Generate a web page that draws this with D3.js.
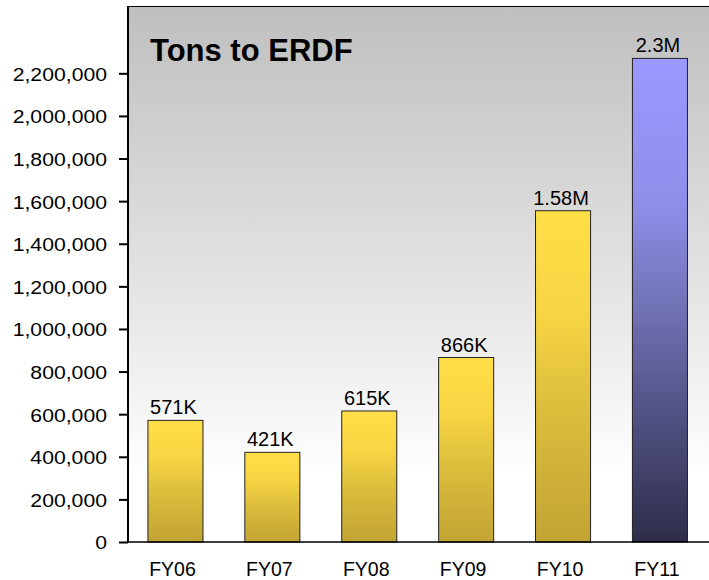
<!DOCTYPE html>
<html>
<head>
<meta charset="utf-8">
<script src="https://cdn.jsdelivr.net/npm/d3@7"></script>
<style>
  html, body { margin: 0; padding: 0; background: #ffffff; }
  svg { display: block; font-family: "Liberation Sans", Arial, sans-serif; }
</style>
</head>
<body>
<svg id="chart" width="709" height="580"></svg>
<script>
// ---- data ----
const categories = ["FY06", "FY07", "FY08", "FY09", "FY10", "FY11"];
const tons = [571000, 421000, 615000, 866000, 1555000, 2270000];
const valueLabels = ["571K", "421K", "615K", "866K", "1.58M", "2.3M"];
const barGroups = ["actual", "actual", "actual", "actual", "actual", "projected"];
const yTickValues = [0, 200000, 400000, 600000, 800000, 1000000, 1200000, 1400000, 1600000, 1800000, 2000000, 2200000];
const chartTitle = "Tons to ERDF";

// ---- layout ----
const plot = { left: 128, top: 6, bottom: 542, right: 711 };

const svg = d3.select("#chart");
const defs = svg.append("defs");

// background gradient
const bg = defs.append("linearGradient").attr("id", "bgGrad")
  .attr("x1", 0).attr("y1", 0).attr("x2", 0).attr("y2", 1);
bg.append("stop").attr("offset", "0").attr("stop-color", "#bfbfbf");
bg.append("stop").attr("offset", "0.5").attr("stop-color", "#e2e2e2");
bg.append("stop").attr("offset", "0.88").attr("stop-color", "#ffffff");
bg.append("stop").attr("offset", "1").attr("stop-color", "#ffffff");

// bar gradients
const gy = defs.append("linearGradient").attr("id", "grad-actual")
  .attr("x1", 0).attr("y1", 0).attr("x2", 0).attr("y2", 1);
gy.append("stop").attr("offset", "0").attr("stop-color", "#ffdf48");
gy.append("stop").attr("offset", "0.3").attr("stop-color", "#f7d543");
gy.append("stop").attr("offset", "0.6").attr("stop-color", "#dcbd3c");
gy.append("stop").attr("offset", "1").attr("stop-color", "#c2a434");

const gb = defs.append("linearGradient").attr("id", "grad-projected")
  .attr("x1", 0).attr("y1", 0).attr("x2", 0).attr("y2", 1);
gb.append("stop").attr("offset", "0").attr("stop-color", "#9999ff");
gb.append("stop").attr("offset", "0.3").attr("stop-color", "#8e8eea");
gb.append("stop").attr("offset", "0.5").attr("stop-color", "#7474ba");
gb.append("stop").attr("offset", "0.71").attr("stop-color", "#55558a");
gb.append("stop").attr("offset", "1").attr("stop-color", "#2d2d4a");

// scales
const x = d3.scaleBand()
  .domain(categories)
  .range([127, 127 + 6 * 96.9])
  .paddingInner(0.432)
  .paddingOuter(0.216);

const y = d3.scaleLinear()
  .domain([0, 2516000])
  .range([plot.bottom, plot.top]);

// plot background
svg.append("rect")
  .attr("x", plot.left).attr("y", plot.top)
  .attr("width", plot.right - plot.left)
  .attr("height", plot.bottom - plot.top)
  .attr("fill", "url(#bgGrad)");

// top border
svg.append("line")
  .attr("x1", plot.left).attr("x2", plot.right)
  .attr("y1", plot.top + 0.5).attr("y2", plot.top + 0.5)
  .attr("stroke", "#000").attr("stroke-width", 1.2);

// title
svg.append("text")
  .attr("x", 150).attr("y", 61)
  .attr("font-size", 31).attr("font-weight", "bold")
  .attr("fill", "#000")
  .text(chartTitle);

// bars
const data = categories.map((c, i) => ({ c, v: tons[i], label: valueLabels[i], g: barGroups[i] }));

svg.append("g").selectAll("rect")
  .data(data)
  .join("rect")
  .attr("x", d => x(d.c))
  .attr("y", d => y(d.v))
  .attr("width", x.bandwidth())
  .attr("height", d => y(0) - y(d.v))
  .attr("fill", d => `url(#grad-${d.g})`)
  .attr("stroke", "#222")
  .attr("stroke-width", 1);

// value labels
svg.append("g").selectAll("text")
  .data(data)
  .join("text")
  .attr("x", d => x(d.c) + x.bandwidth() / 2 - 2)
  .attr("y", d => y(d.v) - 6)
  .attr("text-anchor", "middle")
  .attr("font-size", 20)
  .attr("fill", "#000")
  .text(d => d.label);

// y axis
const yAxis = d3.axisLeft(y)
  .tickValues(yTickValues)
  .tickSize(9)
  .tickPadding(12)
  .tickFormat(d3.format(","));

const gY = svg.append("g")
  .attr("transform", `translate(${plot.left},0)`)
  .call(yAxis);
gY.select(".domain").remove();
gY.selectAll(".tick line").attr("stroke", "#000").attr("stroke-width", 2);
gY.selectAll(".tick text")
  .attr("x", null)
  .attr("dy", "0.37em")
  .attr("transform", "translate(-21,0) scale(1.14,1)")
  .attr("font-size", 18.6)
  .attr("font-family", "'Liberation Sans', Arial, sans-serif")
  .attr("fill", "#000");

// left axis line
svg.append("line")
  .attr("x1", plot.left).attr("x2", plot.left)
  .attr("y1", plot.top).attr("y2", plot.bottom + 1)
  .attr("stroke", "#000").attr("stroke-width", 2);

// x axis
const xAxis = d3.axisBottom(x).tickSize(0).tickPadding(0);
const gX = svg.append("g")
  .attr("transform", `translate(0,${plot.bottom})`)
  .call(xAxis);
gX.select(".domain").remove();
gX.selectAll(".tick text")
  .attr("y", 34)
  .attr("dy", 0)
  .attr("x", -3)
  .attr("font-size", 19.5)
  .attr("font-family", "'Liberation Sans', Arial, sans-serif")
  .attr("fill", "#000");

svg.append("line")
  .attr("x1", plot.left).attr("x2", plot.right)
  .attr("y1", plot.bottom).attr("y2", plot.bottom)
  .attr("stroke", "#000").attr("stroke-width", 1.5);
</script>
</body>
</html>
